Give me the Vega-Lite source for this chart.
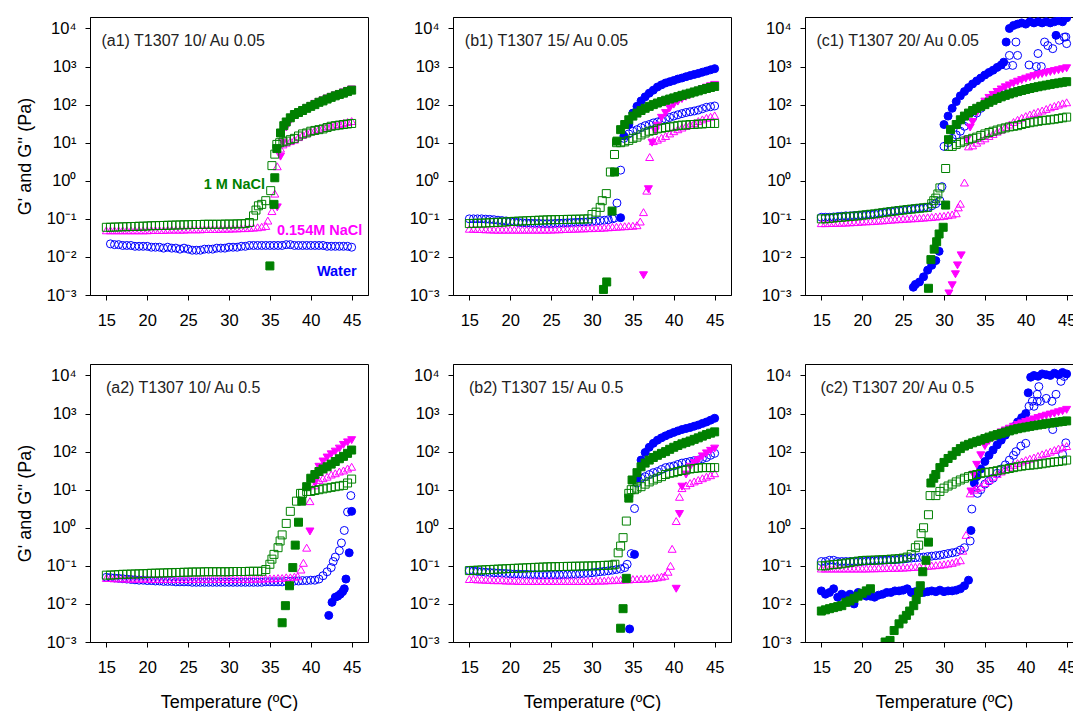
{
"$schema":"https://vega.github.io/schema/vega-lite/v6.json",
"padding":{"left":15,"top":16,"right":5,"bottom":5},
"config":{
 "font":"Liberation Sans",
 "view":{"stroke":"black","strokeWidth":1},
 "axis":{"grid":false,"domainColor":"black","tickColor":"black","labelColor":"black","titleColor":"black","labelFontSize":16.5,"titleFontSize":18,"titleFontWeight":"normal","tickSize":5,"labelFont":"Liberation Sans","titleFont":"Liberation Sans","domainWidth":1,"tickWidth":1},
 "axisX":{"labelPadding":12,"titlePadding":18},
 "axisY":{"labelPadding":9,"titlePadding":12}
},
"datasets":{"rheo":[
{"p":"a1","s":"w2","t":[15.5,16,16.5,17,17.5,18,18.5,19,19.5,20,20.5,21,21.5,22,22.5,23,23.5,24,24.5,25,25.5,26,26.5,27,27.5,28,28.5,29,29.5,30,30.5,31,31.5,32,32.5,33,33.5,34,34.5,35,35.5,36,36.5,37,37.5,38,38.5,39,39.5,40,40.5,41,41.5,42,42.5,43,43.5,44,44.5,45],
 "v":[0.022,0.021,0.021,0.02,0.02,0.02,0.019,0.019,0.019,0.019,0.018,0.018,0.018,0.017,0.018,0.017,0.017,0.016,0.017,0.016,0.015,0.015,0.015,0.016,0.016,0.016,0.017,0.017,0.017,0.018,0.018,0.018,0.019,0.019,0.02,0.02,0.02,0.02,0.02,0.02,0.02,0.02,0.02,0.021,0.021,0.02,0.02,0.02,0.02,0.02,0.02,0.02,0.02,0.019,0.019,0.019,0.019,0.019,0.019,0.018]},
{"p":"a1","s":"n2","t":[15,15.5,16,16.5,17,17.5,18,18.5,19,19.5,20,20.5,21,21.5,22,22.5,23,23.5,24,24.5,25,25.5,26,26.5,27,27.5,28,28.5,29,29.5,30,30.5,31,31.5,32,32.5,33,33.5,34,34.5,34.75,35.25,35.6,35.9,36.3,36.6,37,37.5,38,38.5,39,39.5,40,40.5,41,41.5,42,42.5,43,43.5,44,44.5,45],
 "v":[0.05,0.05,0.05,0.05,0.05,0.05,0.05,0.05,0.05,0.05,0.05,0.051,0.051,0.051,0.051,0.052,0.052,0.052,0.052,0.052,0.053,0.053,0.053,0.053,0.054,0.054,0.054,0.054,0.055,0.055,0.055,0.056,0.056,0.057,0.057,0.058,0.059,0.06,0.062,0.065,0.09,0.16,0.46,2.4,7,9,10,11,12,14,16,18,20,21,23,25,27,28,30,31,33,35,37]},
{"p":"a1","s":"m2","t":[15,15.5,16,16.5,17,17.5,18,18.5,19,19.5,20,20.5,21,21.5,22,22.5,23,23.5,24,24.5,25,25.5,26,26.5,27,27.5,28,28.5,29,29.5,30,30.5,31,31.5,32,32.5,33,33.3,33.6,34,34.5,35.1,35.25,35.6,35.85,36.2,36.6,37,37.5,38,38.5,39,39.5,40,40.5,41,41.5,42,42.5,43,43.5,44,44.5,45],
 "v":[0.06,0.06,0.061,0.061,0.062,0.062,0.063,0.063,0.064,0.064,0.065,0.066,0.066,0.067,0.067,0.068,0.068,0.069,0.069,0.07,0.07,0.071,0.071,0.071,0.072,0.072,0.072,0.072,0.072,0.073,0.073,0.073,0.074,0.074,0.075,0.08,0.12,0.17,0.22,0.24,0.3,0.55,2.5,5,9,10,10.5,11,12,13,15,17,18,20,21,22,23,25,27,28,29,30,31,32]},
{"p":"a1","s":"m1","t":[35,35.5,35.6,35.85,36.3,36.7,37,37.5,38,38.5,39,39.5,40,40.5,41,41.5,42,42.5,43,43.5,44,44.5,45],
 "v":[0.0058,0.24,1.2,7,18,28,35,45,55,62,70,80,90,100,115,125,140,155,170,185,200,220,240]},
{"p":"a1","s":"n1","t":[35.9,36.3,36.6,37,37.5,38,38.5,39,39.5,40,40.5,41,41.5,42,42.5,43,43.5,44,44.5,45],
 "v":[0.2,4.3,10,25,38,50,60,70,80,92,105,118,130,145,160,175,190,210,230,250]},

{"p":"b1","s":"w2","t":[15,15.5,16,16.5,17,17.5,18,18.5,19,19.5,20,20.5,21,21.5,22,22.5,23,23.5,24,24.5,25,25.5,26,26.5,27,27.5,28,28.5,29,29.5,30,30.5,31,31.5,32,32.5,32.75,33.05,33.5,33.9,34.5,35,35.5,36,36.5,37,37.5,38,38.5,39,39.5,40,40.5,41,41.5,42,42.5,43,43.5,44,44.5,45],
 "v":[0.1,0.1,0.1,0.1,0.098,0.097,0.095,0.092,0.09,0.088,0.085,0.083,0.08,0.079,0.078,0.077,0.076,0.076,0.075,0.075,0.075,0.076,0.077,0.078,0.079,0.08,0.081,0.082,0.083,0.084,0.085,0.087,0.09,0.092,0.095,0.1,0.105,0.26,1.9,13,17,20,22,25,28,30,33,35,38,42,46,50,54,58,62,65,68,72,78,85,88,92]},
{"p":"b1","s":"w1","t":[33.5,33.9,34.5,35,35.5,36,36.5,37,37.5,38,38.5,39,39.5,40,40.5,41,41.5,42,42.5,43,43.5,44,44.5,45],
 "v":[0.107,15,30,60,90,125,160,200,240,290,330,370,400,430,470,500,540,580,620,660,710,760,820,880]},
{"p":"b1","s":"m2","t":[15,15.5,16,16.5,17,17.5,18,18.5,19,19.5,20,20.5,21,21.5,22,22.5,23,23.5,24,24.5,25,25.5,26,26.5,27,27.5,28,28.5,29,29.5,30,30.5,31,31.25,31.75,32.25,32.75,33,33.5,34,34.5,35,35.5,36,36.5,37,37.5,38,38.5,39,39.5,40,40.5,41,41.5,42,42.5,43,43.5,44,44.5,45],
 "v":[0.075,0.076,0.077,0.077,0.078,0.079,0.08,0.081,0.082,0.083,0.085,0.086,0.087,0.088,0.089,0.09,0.091,0.092,0.093,0.094,0.095,0.095,0.096,0.096,0.097,0.097,0.098,0.098,0.099,0.1,0.13,0.15,0.2,0.3,0.46,1.7,4.9,10,10,10.5,11.5,13,14,16,18,20,21,23,24,25,26,27,28,29,29,30,30,31,31,32,32,32]},
{"p":"b1","s":"m1","t":[31.4,31.8,32.45,32.75,33.05,33.5,34,34.5,35,35.5,36,36.5,37,37.5,38,38.5,39,39.5,40,40.5,41,41.5,42,42.5,43,43.5,44,44.5,45],
 "v":[0.0014,0.0022,0.16,1.7,11,22,30,40,50,60,70,80,90,100,110,120,130,140,150,162,175,188,200,215,230,248,265,282,300]},
{"p":"b1","s":"n2","t":[15,15.5,16,16.5,17,17.5,18,18.5,19,19.5,20,20.5,21,21.5,22,22.5,23,23.5,24,24.5,25,25.5,26,26.5,27,27.5,28,28.5,29,29.5,30,30.5,31,31.5,32,32.5,33,33.5,34,34.5,35,35.5,35.9,36.3,36.7,37.05,37.5,38,38.5,39,39.5,40,40.5,41,41.5,42,42.5,43,43.5,44,44.5,45],
 "v":[0.055,0.055,0.054,0.054,0.053,0.053,0.052,0.052,0.052,0.052,0.052,0.052,0.052,0.052,0.052,0.052,0.052,0.052,0.052,0.052,0.052,0.053,0.053,0.054,0.054,0.055,0.055,0.056,0.056,0.057,0.057,0.058,0.058,0.059,0.06,0.061,0.062,0.063,0.064,0.065,0.066,0.068,0.085,0.15,0.55,4.2,11,12,13.5,15,17.5,20,22.5,25,27.5,30,33,37,41,45,48,52]},
{"p":"b1","s":"n1","t":[36.3,36.9,37.35,37.75,38,38.5,39,39.5,40,40.5,41,41.5,42,42.5,43,43.5,44,44.5,45],
 "v":[0.0033,0.6,10,20,28,45,60,80,100,120,140,160,180,205,230,255,280,305,330]},

{"p":"c1","s":"w2","t":[15,15.5,16,16.5,17,17.5,18,18.5,19,19.5,20,20.5,21,21.5,22,22.5,23,23.5,24,24.5,25,25.5,26,26.5,27,27.5,28,28.5,29,29.5,29.75,30,30.5,31,31.5,32,32.5,33,33.5,34,34.5,35,35.5,36,36.5,37,37.6,38,38.4,38.8,39,40.4,41.3,41.5,41.9,42.3,42.7,43.3,44.1,44.7,44.9,45],
 "v":[0.11,0.11,0.11,0.112,0.115,0.117,0.12,0.12,0.122,0.123,0.125,0.128,0.13,0.133,0.14,0.145,0.15,0.155,0.16,0.165,0.17,0.175,0.18,0.185,0.19,0.195,0.2,0.22,0.25,0.3,0.7,8,10,13,16,20,27,35,45,60,80,100,130,160,190,215,1070,1960,1070,4400,1960,1100,1000,2200,1000,4400,3550,2950,4900,5900,6000,4000]},
{"p":"c1","s":"w1","t":[26.25,26.5,27,27.5,28,28.5,29,29.4,30,30.5,31,31.5,32,32.5,33,33.5,34,34.5,35,35.5,36,36.5,37,37.3,37.6,38,38.5,39,39.5,40,40.5,41,41.5,42,42.5,43,43.5,43.7,44,44.5,45],
 "v":[0.0016,0.0019,0.0022,0.003,0.0045,0.006,0.008,0.014,30,50,80,120,170,220,280,350,420,500,600,700,800,950,1100,1300,4400,10000,12000,13000,14000,13000,15000,14000,15000,14000,15000,14000,15000,6600,16000,15000,19000]},
{"p":"c1","s":"m2","t":[15,15.5,16,16.5,17,17.5,18,18.5,19,19.5,20,20.5,21,21.5,22,22.5,23,23.5,24,24.5,25,25.5,26,26.5,27,27.5,28,28.5,28.75,29,29.25,29.5,30.2,30.55,31,31.5,32,32.5,33,33.5,34,34.5,35,35.5,36,36.5,37,37.5,38,38.5,39,39.5,40,40.5,41,41.5,42,42.5,43,43.5,44,44.5,45],
 "v":[0.1,0.1,0.103,0.105,0.108,0.11,0.113,0.115,0.118,0.12,0.125,0.128,0.132,0.135,0.14,0.145,0.15,0.155,0.16,0.165,0.17,0.175,0.18,0.185,0.19,0.195,0.2,0.25,0.3,0.35,0.45,0.65,2.1,8,8,9,10,11,12,13,14,15.5,17,18.5,20,21.5,23,24.5,26,27,28,30,32,33.5,35,36.5,38,39,40,41.5,43,45,47]},
{"p":"c1","s":"m1","t":[28.1,28.4,28.8,29.1,29.4,29.9,30.2,30.55,30.8,31.5,32,32.5,33,33.5,34,34.5,35,35.5,36,36.5,37,37.5,38,38.5,39,39.5,40,40.5,41,41.5,42,42.5,43,43.5,44,44.5,45],
 "v":[0.0015,0.0085,0.016,0.025,0.04,0.06,0.23,12,22,30,40,50,60,70,80,90,100,115,130,145,160,175,190,205,220,235,250,265,280,295,310,325,340,355,370,385,400]},
{"p":"c1","s":"n2","t":[15,15.5,16,16.5,17,17.5,18,18.5,19,19.5,20,20.5,21,21.5,22,22.5,23,23.5,24,24.5,25,25.5,26,26.5,27,27.5,28,28.5,29,29.5,30,30.5,31,31.5,31.75,32,32.5,33,33.5,34,34.5,35,35.5,36,36.5,37,37.5,38,38.5,39,39.5,40,40.5,41,41.5,42,42.5,43,43.5,44,44.5,45],
 "v":[0.077,0.077,0.078,0.078,0.079,0.079,0.08,0.081,0.082,0.083,0.085,0.086,0.087,0.088,0.09,0.091,0.093,0.095,0.097,0.098,0.1,0.101,0.103,0.104,0.106,0.108,0.11,0.112,0.115,0.117,0.12,0.125,0.13,0.14,0.2,0.25,0.9,8,8.5,10,11.5,13,15,17,19.5,22,26,30,35,40,45,50,55,60,65,70,77,85,92,100,108,115]},
{"p":"c1","s":"n1","t":[30.6,31,31.4,31.65,32.1,32.8,33.2,33.5,34,34.5,35,35.5,36,36.5,37,37.5,38,38.5,39,39.5,40,40.5,41,41.5,42,42.5,43,43.5,44,44.5,45],
 "v":[0.0011,0.0018,0.0035,0.006,0.011,12,25,35,60,90,120,150,180,215,250,285,320,360,400,440,480,520,560,600,640,680,720,760,800,850,900]},

{"p":"a2","s":"w2","t":[15,15.5,16,16.5,17,17.5,18,18.5,19,19.5,20,20.5,21,21.5,22,22.5,23,23.5,24,24.5,25,25.5,26,26.5,27,27.5,28,28.5,29,29.5,30,30.5,31,31.5,32,32.5,33,33.5,34,34.5,35,35.5,36,36.5,37,37.5,38,38.5,39,39.5,40,40.5,41,41.5,42,42.5,42.75,43,43.5,43.75,44.1,44.5,44.9],
 "v":[0.05,0.049,0.048,0.047,0.046,0.045,0.044,0.043,0.042,0.042,0.041,0.041,0.04,0.04,0.039,0.039,0.039,0.038,0.038,0.038,0.038,0.037,0.037,0.037,0.037,0.037,0.037,0.037,0.037,0.037,0.037,0.037,0.037,0.037,0.037,0.037,0.037,0.037,0.037,0.038,0.038,0.038,0.038,0.038,0.039,0.039,0.04,0.04,0.041,0.041,0.042,0.042,0.045,0.055,0.07,0.09,0.13,0.17,0.25,0.4,0.85,2.6,7]},
{"p":"a2","s":"w1","t":[42.2,42.6,43,43.3,43.6,43.9,44.1,44.3,44.7,45],
 "v":[0.005,0.011,0.015,0.016,0.018,0.021,0.025,0.045,0.22,2.7]},
{"p":"a2","s":"m2","t":[15,15.5,16,16.5,17,17.5,18,18.5,19,19.5,20,20.5,21,21.5,22,22.5,23,23.5,24,24.5,25,25.5,26,26.5,27,27.5,28,28.5,29,29.5,30,30.5,31,31.5,32,32.5,33,33.5,34,34.5,35,35.25,35.5,36,36.25,36.5,37,37.5,38.25,38.75,39,39.5,40,40.5,41,41.5,42,42.5,43,43.5,44,44.5,45],
 "v":[0.057,0.057,0.058,0.059,0.06,0.06,0.061,0.061,0.062,0.062,0.063,0.064,0.064,0.065,0.065,0.066,0.066,0.067,0.067,0.068,0.068,0.069,0.069,0.069,0.07,0.07,0.07,0.07,0.07,0.07,0.07,0.071,0.071,0.071,0.071,0.072,0.072,0.072,0.072,0.08,0.11,0.15,0.2,0.3,0.45,0.65,1.3,2.7,5,8,8,9,9,9.5,10,10.5,11,11.5,12,12.5,13,15,19]},
{"p":"a2","s":"m1","t":[36.5,36.9,37.4,37.8,38.1,38.5,38.9,39.5,40,40.5,41,41.5,42,42.5,43,43.5,44,44.5,45],
 "v":[0.0032,0.009,0.03,0.09,0.35,1.4,5,12,20,25,30,35,40,47,55,65,75,90,110]},
{"p":"a2","s":"n2","t":[15,15.5,16,16.5,17,17.5,18,18.5,19,19.5,20,20.5,21,21.5,22,22.5,23,23.5,24,24.5,25,25.5,26,26.5,27,27.5,28,28.5,29,29.5,30,30.5,31,31.5,32,32.5,33,33.5,34,34.5,35,35.5,36,36.5,37,37.5,38,38.4,38.8,39.1,39.5,39.9,40.5,41,41.5,42,42.5,43,43.5,44,44.5,45],
 "v":[0.048,0.048,0.047,0.047,0.047,0.046,0.046,0.046,0.046,0.046,0.046,0.045,0.045,0.045,0.045,0.045,0.045,0.045,0.045,0.045,0.045,0.045,0.045,0.045,0.045,0.045,0.045,0.045,0.045,0.045,0.045,0.045,0.045,0.045,0.045,0.045,0.046,0.046,0.046,0.047,0.047,0.047,0.048,0.048,0.05,0.05,0.052,0.053,0.08,0.12,0.3,5,13,18,20,22,25,27,30,32,36,40]},
{"p":"a2","s":"n1","t":[39.9,40.5,41,41.5,42,42.5,43,43.5,44,44.5,45],
 "v":[0.8,15,40,55,70,85,100,120,150,175,200]},

{"p":"b2","s":"w2","t":[15,15.5,16,16.5,17,17.5,18,18.5,19,19.5,20,20.5,21,21.5,22,22.5,23,23.5,24,24.5,25,25.5,26,26.5,27,27.5,28,28.5,29,29.5,30,30.5,31,31.5,32,32.5,33,33.5,34,34.3,34.8,35.2,35.5,36,36.5,37,37.5,38,38.5,39,39.5,40,40.5,41,41.5,42,42.5,43,43.5,44,44.5,45],
 "v":[0.075,0.073,0.071,0.07,0.068,0.067,0.066,0.065,0.064,0.063,0.062,0.061,0.061,0.06,0.06,0.059,0.059,0.058,0.058,0.058,0.058,0.058,0.058,0.059,0.059,0.06,0.06,0.062,0.063,0.064,0.066,0.068,0.07,0.072,0.074,0.077,0.08,0.083,0.09,0.11,0.21,3.2,15,20,22,25,28,30,34,38,40,42,46,50,52,55,58,60,65,70,80,90]},
{"p":"b2","s":"w1","t":[34.6,35.2,35.5,36,36.5,37,37.5,38,38.5,39,39.5,40,40.5,41,41.5,42,42.5,43,43.5,44,44.5,45],
 "v":[0.0022,0.2,20,60,95,130,165,200,230,260,290,320,350,380,405,430,465,500,550,600,670,750]},
{"p":"b2","s":"m2","t":[15,15.5,16,16.5,17,17.5,18,18.5,19,19.5,20,20.5,21,21.5,22,22.5,23,23.5,24,24.5,25,25.5,26,26.5,27,27.5,28,28.5,29,29.5,30,30.5,31,31.5,32,32.5,32.8,33.2,33.5,33.8,34.2,34.5,34.8,35.2,35.5,36,36.5,37,37.5,38,38.5,39,39.5,40,40.5,41,41.5,42,42.5,43,43.5,44,44.5,45],
 "v":[0.075,0.076,0.077,0.078,0.079,0.08,0.081,0.082,0.083,0.084,0.085,0.086,0.087,0.088,0.089,0.09,0.091,0.092,0.093,0.094,0.095,0.095,0.096,0.096,0.097,0.097,0.098,0.098,0.099,0.099,0.1,0.1,0.102,0.103,0.104,0.105,0.11,0.22,0.33,0.55,1.5,8,10,10,11,12,14,16,18,20,22,25,27,28,30,32,33,35,36,37,38,38,38,38]},
{"p":"b2","s":"m1","t":[33.5,33.8,34.2,34.5,34.9,35.5,36,36.5,37,37.5,38,38.5,39,39.5,40,40.5,41,41.5,42,42.5,43,43.5,44,44.5,45],
 "v":[0.0023,0.0075,0.047,6,18,28,40,50,60,70,80,90,100,115,130,145,160,175,190,210,230,255,280,305,330]},
{"p":"b2","s":"n2","t":[15,15.5,16,16.5,17,17.5,18,18.5,19,19.5,20,20.5,21,21.5,22,22.5,23,23.5,24,24.5,25,25.5,26,26.5,27,27.5,28,28.5,29,29.5,30,30.5,31,31.5,32,32.5,33,33.5,34,34.5,35,35.5,36,36.5,37,37.5,38,38.5,38.9,39.3,39.6,39.8,40.3,40.7,41,41.5,42,42.5,43,43.5,44,44.5,45],
 "v":[0.045,0.045,0.044,0.044,0.043,0.043,0.042,0.042,0.042,0.041,0.041,0.041,0.04,0.04,0.04,0.04,0.04,0.04,0.04,0.04,0.04,0.04,0.04,0.04,0.04,0.04,0.04,0.04,0.04,0.04,0.04,0.041,0.041,0.041,0.042,0.042,0.043,0.043,0.044,0.044,0.045,0.045,0.046,0.046,0.047,0.048,0.05,0.052,0.055,0.07,0.1,0.28,1.5,6.5,11,13,15,16.5,18,20,22,24,27]},
{"p":"b2","s":"n1","t":[40.3,40.7,41,41.5,42,42.5,43,43.5,44,44.5,45],
 "v":[0.025,2.3,12,25,40,50,60,75,90,105,120]},

{"p":"c2","s":"w2","t":[15,15.5,16,16.5,17,17.5,18,18.5,19,19.5,20,20.5,21,21.5,22,22.5,23,23.5,24,24.5,25,25.5,26,26.5,27,27.5,28,28.5,29,29.5,30,30.5,31,31.5,32,32.5,33.2,33.4,34.1,34.5,35,35.5,36,36.5,37,37.5,38,38.5,38.8,39.4,40,40.4,40.8,41,41.4,41.4,41.6,41.8,42.5,43.2,43.3,43.7,44.3,44.5,44.7,44.9],
 "v":[0.13,0.13,0.14,0.14,0.13,0.13,0.13,0.13,0.13,0.13,0.13,0.132,0.135,0.137,0.14,0.14,0.142,0.143,0.145,0.148,0.15,0.155,0.16,0.163,0.167,0.17,0.175,0.18,0.185,0.19,0.2,0.21,0.22,0.23,0.26,0.3,0.45,3.1,8,10,14,17,20,27,35,45,60,80,100,140,165,1550,2100,1550,2100,3200,5100,2100,2500,2100,380,3200,7000,85,9400,170]},
{"p":"c2","s":"w1","t":[15,15.5,16,16.5,17,17.5,18,18.5,19,19.5,20,20.5,21,21.5,22,22.5,23,23.5,24,24.5,25,25.5,26,26.5,27,27.5,28,28.5,29,29.5,30,30.5,31,31.5,32,32.5,33,33.3,33.7,34,34.5,35,35.5,36,36.5,37,37.5,38,38.5,39,39.5,40,40.3,40.6,41,41.5,42,42.5,43,43.5,44,44.5,45],
 "v":[0.022,0.018,0.02,0.025,0.015,0.018,0.016,0.018,0.01,0.02,0.018,0.016,0.016,0.015,0.017,0.018,0.02,0.02,0.022,0.022,0.023,0.025,0.02,0.021,0.022,0.02,0.021,0.022,0.021,0.023,0.021,0.022,0.022,0.023,0.025,0.03,0.042,0.85,15,22,35,55,80,110,150,200,270,350,450,600,780,1000,3500,9000,10000,9500,11000,10500,10000,11500,10500,12000,11000]},
{"p":"c2","s":"m2","t":[15,15.5,16,16.5,17,17.5,18,18.5,19,19.5,20,20.5,21,21.5,22,22.5,23,23.5,24,24.5,25,25.5,26,26.5,26.9,27.2,27.5,28.1,28.3,29,29.5,30,30.5,31,31.5,32,32.5,33,33.5,34,34.5,35,35.5,36,36.5,37,37.5,38,38.5,39,39.5,40,40.5,41,41.5,42,42.5,43,43.5,44,44.5,45],
 "v":[0.1,0.1,0.105,0.108,0.11,0.113,0.118,0.122,0.128,0.133,0.138,0.14,0.14,0.142,0.143,0.145,0.147,0.15,0.152,0.155,0.16,0.17,0.2,0.3,0.35,0.7,1,2.2,7,7,9,11,12.5,14,16,18,20,22,23.5,25,26.5,28,29,30,31.5,33,34.5,36,38,40,41.5,43,44,45,46.5,48,50,52,53.5,55,57,60]},
{"p":"c2","s":"m1","t":[15,15.5,16,16.5,17,17.5,18,18.5,19,19.5,20,20.5,21,22.8,23.4,23.9,24.5,25,25.4,25.8,26.3,26.6,26.9,27.1,27.4,27.8,28.1,28.4,28.75,29,29.5,30,30.5,31,31.5,32,32.5,33,33.5,34,34.5,35,35.5,36,36.5,37,37.5,38,38.5,39,39.5,40,40.5,41,41.5,42,42.5,43,43.5,44,44.5,45],
 "v":[0.0065,0.007,0.0075,0.008,0.0085,0.009,0.011,0.012,0.014,0.016,0.019,0.022,0.025,0.001,0.0011,0.002,0.003,0.004,0.005,0.0065,0.009,0.013,0.02,0.03,0.07,0.14,0.42,15,20,25,38,52,66,80,100,120,140,155,170,185,200,220,240,260,280,300,325,350,375,400,420,440,460,480,500,520,540,560,580,600,620,640]},
{"p":"c2","s":"n2","t":[15,15.5,16,16.5,17,17.5,18,18.5,19,19.5,20,20.5,21,21.5,22,22.5,23,23.5,24,24.5,25,25.5,26,26.5,27,27.5,28,28.5,29,29.5,30,30.5,31,31.5,32,32.3,32.7,33.2,33.7,34,34.5,35,35.5,36,36.5,37,37.5,38,38.5,39,39.5,40,40.5,41,41.5,42,42.5,43,43.5,44,44.5,45],
 "v":[0.085,0.085,0.085,0.085,0.085,0.085,0.085,0.085,0.085,0.085,0.085,0.085,0.086,0.086,0.087,0.087,0.088,0.088,0.089,0.089,0.09,0.091,0.093,0.094,0.096,0.098,0.1,0.102,0.104,0.107,0.11,0.115,0.12,0.13,0.14,0.25,0.65,8,10,11,12,15,18,22,26,30,35,40,45,50,55,60,65,70,77,85,92,100,110,120,130,140]},
{"p":"c2","s":"n1","t":[33.3,33.6,34,34.5,35,35.5,36,36.5,37,37.5,38,38.5,39,39.5,40,40.5,41,41.5,42,42.5,43,43.5,44,44.5,45],
 "v":[9,25,45,80,140,190,230,280,320,360,400,450,500,550,600,650,700,760,820,880,940,1000,1080,1150,1250]}
]},
"spacing":39,
"hconcat":[
 {"spacing":34,"vconcat":[
  {"width":278,"height":278,"resolve":{"axis":{"x":"independent","y":"independent"}},"layer":[
   {"data":{"name":"rheo"},"transform":[{"filter":"datum.p==='a1'"},{"flatten":["t","v"]},{"filter":"isValid(datum.v)"}],
    "mark":{"type":"point","filled":true,"size":64,"strokeWidth":1,"opacity":1,"clip":true},
    "encoding":{
     "x":{"field":"t","type":"quantitative","scale":{"domain":[13,47],"nice":false,"zero":false},"axis":{"values":[15,20,25,30,35,40,45],"title":null}},
     "y":{"field":"v","type":"quantitative","scale":{"type":"log","domain":[0.001,20000],"nice":false},"axis":{"values":[0.001,0.01,0.1,1,10,100,1000,10000],"labelExpr":"datum.value < 0.005 ? '10⁻³' : datum.value < 0.05 ? '10⁻²' : datum.value < 0.5 ? '10⁻¹' : datum.value < 5 ? '10⁰' : datum.value < 50 ? '10¹' : datum.value < 500 ? '10²' : datum.value < 5000 ? '10³' : '10⁴'","title":"G' and G'' (Pa)"}},
     "shape":{"field":"s","type":"nominal","scale":{"domain":["w1","w2","n1","n2","m1","m2"],"range":["circle","circle","triangle-down","triangle-up","square","square"]},"legend":null},
     "fill":{"field":"s","type":"nominal","scale":{"domain":["w1","w2","n1","n2","m1","m2"],"range":["#0000ff","transparent","#ff00ff","transparent","#008000","transparent"]},"legend":null},
     "stroke":{"field":"s","type":"nominal","scale":{"domain":["w1","w2","n1","n2","m1","m2"],"range":["#0000ff","#0000ff","#ff00ff","#ff00ff","#008000","#008000"]},"legend":null},
     "order":{"field":"s","sort":"descending"}}},
   {"data":{"values":[{}]},"mark":{"type":"text","text":"(a1) T1307 10/ Au 0.05","align":"left","baseline":"alphabetic","fontSize":16,"color":"#222222"},
    "encoding":{"x":{"datum":14.4,"type":"quantitative","axis":null},"y":{"datum":3360,"type":"quantitative","axis":null}}},
   {"data":{"values":[{}]},"mark":{"type":"text","text":"1 M NaCl","align":"right","baseline":"middle","fontSize":14.5,"fontWeight":"bold","color":"#008000"},
    "encoding":{"x":{"datum":34.4,"type":"quantitative","axis":null},"y":{"datum":0.774,"type":"quantitative","axis":null}}},
   {"data":{"values":[{}]},"mark":{"type":"text","text":"0.154M NaCl","align":"left","baseline":"middle","fontSize":14.5,"fontWeight":"bold","color":"#ff00ff"},
    "encoding":{"x":{"datum":35.86,"type":"quantitative","axis":null},"y":{"datum":0.048,"type":"quantitative","axis":null}}},
   {"data":{"values":[{}]},"mark":{"type":"text","text":"Water","align":"left","baseline":"middle","fontSize":14.5,"fontWeight":"bold","color":"#0000ff"},
    "encoding":{"x":{"datum":40.75,"type":"quantitative","axis":null},"y":{"datum":0.00403,"type":"quantitative","axis":null}}}
  ]},
  {"width":278,"height":278,"resolve":{"axis":{"x":"independent","y":"independent"}},"layer":[
   {"data":{"name":"rheo"},"transform":[{"filter":"datum.p==='a2'"},{"flatten":["t","v"]},{"filter":"isValid(datum.v)"}],
    "mark":{"type":"point","filled":true,"size":64,"strokeWidth":1,"opacity":1,"clip":true},
    "encoding":{
     "x":{"field":"t","type":"quantitative","scale":{"domain":[13,47],"nice":false,"zero":false},"axis":{"values":[15,20,25,30,35,40,45],"title":"Temperature (ºC)"}},
     "y":{"field":"v","type":"quantitative","scale":{"type":"log","domain":[0.001,20000],"nice":false},"axis":{"values":[0.001,0.01,0.1,1,10,100,1000,10000],"labelExpr":"datum.value < 0.005 ? '10⁻³' : datum.value < 0.05 ? '10⁻²' : datum.value < 0.5 ? '10⁻¹' : datum.value < 5 ? '10⁰' : datum.value < 50 ? '10¹' : datum.value < 500 ? '10²' : datum.value < 5000 ? '10³' : '10⁴'","title":"G' and G'' (Pa)"}},
     "shape":{"field":"s","type":"nominal","scale":{"domain":["w1","w2","n1","n2","m1","m2"],"range":["circle","circle","triangle-down","triangle-up","square","square"]},"legend":null},
     "fill":{"field":"s","type":"nominal","scale":{"domain":["w1","w2","n1","n2","m1","m2"],"range":["#0000ff","transparent","#ff00ff","transparent","#008000","transparent"]},"legend":null},
     "stroke":{"field":"s","type":"nominal","scale":{"domain":["w1","w2","n1","n2","m1","m2"],"range":["#0000ff","#0000ff","#ff00ff","#ff00ff","#008000","#008000"]},"legend":null},
     "order":{"field":"s","sort":"descending"}}},
   {"data":{"values":[{}]},"mark":{"type":"text","text":"(a2) T1307 10/ Au 0.5","align":"left","baseline":"alphabetic","fontSize":16,"color":"#222222"},
    "encoding":{"x":{"datum":14.95,"type":"quantitative","axis":null},"y":{"datum":3360,"type":"quantitative","axis":null}}}
  ]}
 ]},
 {"spacing":28,"hconcat":[
  {"spacing":34,"vconcat":[
   {"width":278,"height":278,"resolve":{"axis":{"x":"independent","y":"independent"}},"layer":[
    {"data":{"name":"rheo"},"transform":[{"filter":"datum.p==='b1'"},{"flatten":["t","v"]},{"filter":"isValid(datum.v)"}],
     "mark":{"type":"point","filled":true,"size":64,"strokeWidth":1,"opacity":1,"clip":true},
     "encoding":{
      "x":{"field":"t","type":"quantitative","scale":{"domain":[13,47],"nice":false,"zero":false},"axis":{"values":[15,20,25,30,35,40,45],"title":null}},
      "y":{"field":"v","type":"quantitative","scale":{"type":"log","domain":[0.001,20000],"nice":false},"axis":{"values":[0.001,0.01,0.1,1,10,100,1000,10000],"labelExpr":"datum.value < 0.005 ? '10⁻³' : datum.value < 0.05 ? '10⁻²' : datum.value < 0.5 ? '10⁻¹' : datum.value < 5 ? '10⁰' : datum.value < 50 ? '10¹' : datum.value < 500 ? '10²' : datum.value < 5000 ? '10³' : '10⁴'","title":null}},
      "shape":{"field":"s","type":"nominal","scale":{"domain":["w1","w2","n1","n2","m1","m2"],"range":["circle","circle","triangle-down","triangle-up","square","square"]},"legend":null},
      "fill":{"field":"s","type":"nominal","scale":{"domain":["w1","w2","n1","n2","m1","m2"],"range":["#0000ff","transparent","#ff00ff","transparent","#008000","transparent"]},"legend":null},
      "stroke":{"field":"s","type":"nominal","scale":{"domain":["w1","w2","n1","n2","m1","m2"],"range":["#0000ff","#0000ff","#ff00ff","#ff00ff","#008000","#008000"]},"legend":null},
      "order":{"field":"s","sort":"descending"}}},
    {"data":{"values":[{}]},"mark":{"type":"text","text":"(b1) T1307 15/ Au 0.05","align":"left","baseline":"alphabetic","fontSize":16,"color":"#222222"},
     "encoding":{"x":{"datum":14.45,"type":"quantitative","axis":null},"y":{"datum":3360,"type":"quantitative","axis":null}}}
   ]},
   {"width":278,"height":278,"resolve":{"axis":{"x":"independent","y":"independent"}},"layer":[
    {"data":{"name":"rheo"},"transform":[{"filter":"datum.p==='b2'"},{"flatten":["t","v"]},{"filter":"isValid(datum.v)"}],
     "mark":{"type":"point","filled":true,"size":64,"strokeWidth":1,"opacity":1,"clip":true},
     "encoding":{
      "x":{"field":"t","type":"quantitative","scale":{"domain":[13,47],"nice":false,"zero":false},"axis":{"values":[15,20,25,30,35,40,45],"title":"Temperature (ºC)"}},
      "y":{"field":"v","type":"quantitative","scale":{"type":"log","domain":[0.001,20000],"nice":false},"axis":{"values":[0.001,0.01,0.1,1,10,100,1000,10000],"labelExpr":"datum.value < 0.005 ? '10⁻³' : datum.value < 0.05 ? '10⁻²' : datum.value < 0.5 ? '10⁻¹' : datum.value < 5 ? '10⁰' : datum.value < 50 ? '10¹' : datum.value < 500 ? '10²' : datum.value < 5000 ? '10³' : '10⁴'","title":null}},
      "shape":{"field":"s","type":"nominal","scale":{"domain":["w1","w2","n1","n2","m1","m2"],"range":["circle","circle","triangle-down","triangle-up","square","square"]},"legend":null},
      "fill":{"field":"s","type":"nominal","scale":{"domain":["w1","w2","n1","n2","m1","m2"],"range":["#0000ff","transparent","#ff00ff","transparent","#008000","transparent"]},"legend":null},
      "stroke":{"field":"s","type":"nominal","scale":{"domain":["w1","w2","n1","n2","m1","m2"],"range":["#0000ff","#0000ff","#ff00ff","#ff00ff","#008000","#008000"]},"legend":null},
      "order":{"field":"s","sort":"descending"}}},
    {"data":{"values":[{}]},"mark":{"type":"text","text":"(b2) T1307 15/ Au 0.5","align":"left","baseline":"alphabetic","fontSize":16,"color":"#222222"},
     "encoding":{"x":{"datum":14.95,"type":"quantitative","axis":null},"y":{"datum":3360,"type":"quantitative","axis":null}}}
   ]}
  ]},
  {"spacing":34,"vconcat":[
   {"width":278,"height":278,"resolve":{"axis":{"x":"independent","y":"independent"}},"layer":[
    {"data":{"name":"rheo"},"transform":[{"filter":"datum.p==='c1'"},{"flatten":["t","v"]},{"filter":"isValid(datum.v)"}],
     "mark":{"type":"point","filled":true,"size":64,"strokeWidth":1,"opacity":1,"clip":true},
     "encoding":{
      "x":{"field":"t","type":"quantitative","scale":{"domain":[13,47],"nice":false,"zero":false},"axis":{"values":[15,20,25,30,35,40,45],"title":null}},
      "y":{"field":"v","type":"quantitative","scale":{"type":"log","domain":[0.001,20000],"nice":false},"axis":{"values":[0.001,0.01,0.1,1,10,100,1000,10000],"labelExpr":"datum.value < 0.005 ? '10⁻³' : datum.value < 0.05 ? '10⁻²' : datum.value < 0.5 ? '10⁻¹' : datum.value < 5 ? '10⁰' : datum.value < 50 ? '10¹' : datum.value < 500 ? '10²' : datum.value < 5000 ? '10³' : '10⁴'","title":null}},
      "shape":{"field":"s","type":"nominal","scale":{"domain":["w1","w2","n1","n2","m1","m2"],"range":["circle","circle","triangle-down","triangle-up","square","square"]},"legend":null},
      "fill":{"field":"s","type":"nominal","scale":{"domain":["w1","w2","n1","n2","m1","m2"],"range":["#0000ff","transparent","#ff00ff","transparent","#008000","transparent"]},"legend":null},
      "stroke":{"field":"s","type":"nominal","scale":{"domain":["w1","w2","n1","n2","m1","m2"],"range":["#0000ff","#0000ff","#ff00ff","#ff00ff","#008000","#008000"]},"legend":null},
      "order":{"field":"s","sort":"descending"}}},
    {"data":{"values":[{}]},"mark":{"type":"text","text":"(c1) T1307 20/ Au 0.05","align":"left","baseline":"alphabetic","fontSize":16,"color":"#222222"},
     "encoding":{"x":{"datum":14.4,"type":"quantitative","axis":null},"y":{"datum":3360,"type":"quantitative","axis":null}}}
   ]},
   {"width":278,"height":278,"resolve":{"axis":{"x":"independent","y":"independent"}},"layer":[
    {"data":{"name":"rheo"},"transform":[{"filter":"datum.p==='c2'"},{"flatten":["t","v"]},{"filter":"isValid(datum.v)"}],
     "mark":{"type":"point","filled":true,"size":64,"strokeWidth":1,"opacity":1,"clip":true},
     "encoding":{
      "x":{"field":"t","type":"quantitative","scale":{"domain":[13,47],"nice":false,"zero":false},"axis":{"values":[15,20,25,30,35,40,45],"title":"Temperature (ºC)"}},
      "y":{"field":"v","type":"quantitative","scale":{"type":"log","domain":[0.001,20000],"nice":false},"axis":{"values":[0.001,0.01,0.1,1,10,100,1000,10000],"labelExpr":"datum.value < 0.005 ? '10⁻³' : datum.value < 0.05 ? '10⁻²' : datum.value < 0.5 ? '10⁻¹' : datum.value < 5 ? '10⁰' : datum.value < 50 ? '10¹' : datum.value < 500 ? '10²' : datum.value < 5000 ? '10³' : '10⁴'","title":null}},
      "shape":{"field":"s","type":"nominal","scale":{"domain":["w1","w2","n1","n2","m1","m2"],"range":["circle","circle","triangle-down","triangle-up","square","square"]},"legend":null},
      "fill":{"field":"s","type":"nominal","scale":{"domain":["w1","w2","n1","n2","m1","m2"],"range":["#0000ff","transparent","#ff00ff","transparent","#008000","transparent"]},"legend":null},
      "stroke":{"field":"s","type":"nominal","scale":{"domain":["w1","w2","n1","n2","m1","m2"],"range":["#0000ff","#0000ff","#ff00ff","#ff00ff","#008000","#008000"]},"legend":null},
      "order":{"field":"s","sort":"descending"}}},
    {"data":{"values":[{}]},"mark":{"type":"text","text":"(c2) T1307 20/ Au 0.5","align":"left","baseline":"alphabetic","fontSize":16,"color":"#222222"},
     "encoding":{"x":{"datum":14.9,"type":"quantitative","axis":null},"y":{"datum":3360,"type":"quantitative","axis":null}}}
   ]}
  ]}
 ]}
]
}
